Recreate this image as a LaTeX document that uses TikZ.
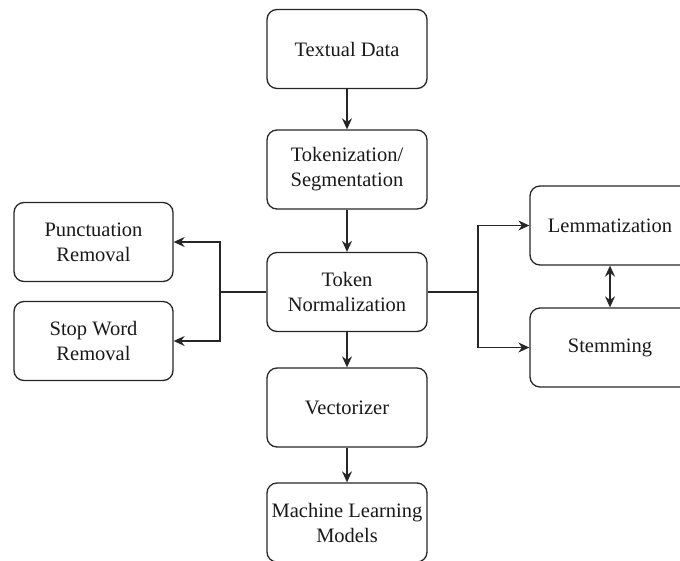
\documentclass[tikz,border=0pt]{standalone}
\usepackage{fontspec}
\setmainfont{Liberation Serif}
\usetikzlibrary{arrows.meta}
\begin{document}
\begin{tikzpicture}[x=1pt,y=-1pt,
  tip/.style={Stealth[length=11pt,width=10pt]},
  box/.style={draw=black!85, line width=1.3pt, rounded corners=10pt,
    minimum width=160pt, minimum height=79pt, align=center,
    font=\fontsize{20.5}{25}\selectfont, text=black!90, inner sep=0pt},
  link/.style={draw=black!85, line width=1.3pt, -{Stealth[length=11pt,width=10pt]}},
  wire/.style={draw=black!85, line width=1.3pt}]
\useasboundingbox (0,0) rectangle (680,560);
\begin{scope}
\clip (0,0) rectangle (680,560);
% main pipeline
\node[box] (text)  at (347,49)    {Textual Data};
\node[box] (tok)   at (347,169.5) {Tokenization/\\Segmentation};
\node[box] (norm)  at (347,292)   {Token\\Normalization};
\node[box] (vec)   at (347,407.5) {Vectorizer};
\node[box] (ml)    at (347,522.5) {Machine Learning\\Models};
% side branches
\node[box, minimum width=159pt] (punct) at (93.5,242) {Punctuation\\Removal};
\node[box, minimum width=159pt] (stop)  at (93.5,341) {Stop Word\\Removal};
\node[box] (lemma) at (610,225.5) {Lemmatization};
\node[box] (stem)  at (610,347.5) {Stemming};
% junction points
\coordinate (jl) at (220,292);
\coordinate (jr) at (478,292);
\end{scope}
% connectors
\draw[link] (text) -- (tok);
\draw[link] (tok) -- (norm);
\draw[link] (norm) -- (vec);
\draw[link] (vec) -- (ml);
\draw[wire] (norm.west) -- (jl);
\draw[link] (jl) |- (punct.east);
\draw[link] (jl) |- (stop.east);
\draw[wire] (norm.east) -- (jr);
\draw[link] (jr) |- (lemma.west);
\draw[link] (jr) |- (stem.west);
\draw[wire, {Stealth[length=11pt,width=10pt]}-{Stealth[length=11pt,width=10pt]}] (lemma.south) -- (stem.north);
\end{tikzpicture}
\end{document}
